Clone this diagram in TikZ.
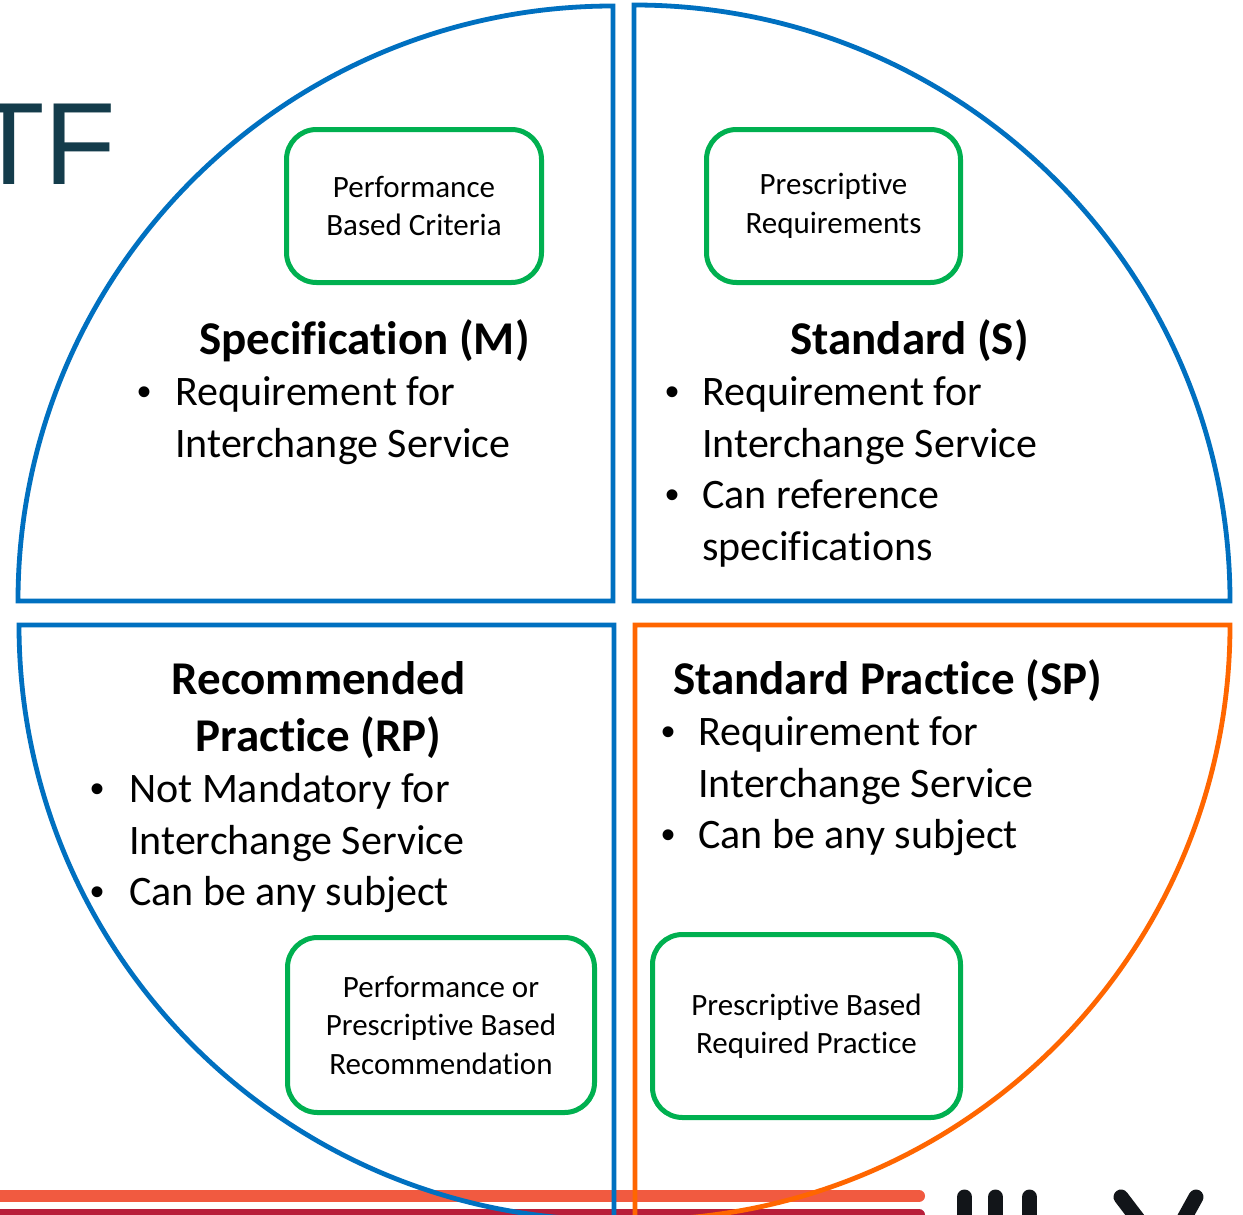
\documentclass[tikz,border=0pt]{standalone}
\usepackage{fontspec}
\setmainfont{Carlito}[Ligatures=NoCommon, RawFeature={-liga;-clig;-calt;-dlig}]
\newfontfamily\tffont{Liberation Sans}
\definecolor{blueq}{HTML}{0070C0}
\definecolor{orangeq}{HTML}{FF6600}
\definecolor{greenb}{HTML}{00B050}
\definecolor{tealtf}{HTML}{143C4B}
\definecolor{lightred}{HTML}{F15A40}
\definecolor{darkred}{HTML}{B81E3A}
\definecolor{logoblk}{HTML}{121519}
\begin{document}
\begin{tikzpicture}[x=1pt,y=1pt,
  quad/.style={line width=4.8pt},
  gbox/.style={draw=greenb, line width=5pt, rounded corners=30pt, align=center, inner sep=0pt,
    font=\fontsize{31}{38.5}\selectfont},
  head/.style={anchor=base, inner sep=0pt, font=\fontsize{47}{57}\bfseries\selectfont},
  btxt/.style={anchor=base west, inner sep=0pt, font=\fontsize{42}{52}\selectfont},
  bul/.style={anchor=base, inner sep=0pt, font=\tffont\fontsize{40}{52}\selectfont},
  bar/.style={line width=12pt, line cap=round},
  stroke/.style={draw=logoblk, line width=15pt, line cap=round}
]
\useasboundingbox (0,0) rectangle (1243,-1215);
\clip (0,0) rectangle (1243,-1215);
\fill[white] (0,0) rectangle (1243,-1215);

% title fragment
\node[anchor=base west, inner sep=0pt, text=tealtf, font=\tffont\fontsize{117}{117}\selectfont] (tf) at (-27,-184) {TF};

% bottom bars and logo fragment
\coordinate (lb1) at (-20,-1196);
\coordinate (lb2) at (919,-1196);
\coordinate (db1) at (-20,-1215);
\coordinate (db2) at (919,-1215);
\draw[bar, lightred] (lb1) -- (lb2);
\draw[bar, darkred] (db1) -- (db2);
\coordinate (s1a) at (964.5,-1197); \coordinate (s1b) at (964.5,-1240);
\coordinate (s2a) at (995.5,-1197); \coordinate (s2b) at (995.5,-1240);
\coordinate (s3a) at (1029.5,-1197); \coordinate (s3b) at (1029.5,-1240);
\coordinate (y1a) at (1121,-1197); \coordinate (y1b) at (1150,-1235);
\coordinate (y2a) at (1196,-1197); \coordinate (y2b) at (1175,-1235);
\draw[stroke] (s1a) -- (s1b);
\draw[stroke] (s2a) -- (s2b);
\draw[stroke] (s3a) -- (s3b);
\draw[stroke] (y1a) -- (y1b);
\draw[stroke] (y2a) -- (y2b);

% quadrants
\draw[quad, blueq] (613,-601) -- (18,-601) arc[start angle=180, end angle=90, radius=595] -- cycle;
\draw[quad, blueq] (634,-601) -- (634,-5) arc[start angle=90, end angle=0, radius=596] -- cycle;
\draw[quad, blueq] (614,-625) -- (19,-625) arc[start angle=180, end angle=270, radius=595] -- cycle;
\draw[quad, orangeq] (635,-625) -- (1230,-625) arc[start angle=0, end angle=-90, radius=595] -- cycle;

% green boxes
\node[gbox, minimum width=255pt, minimum height=153pt] (b1) at (414,-206) {Performance\\Based Criteria};
\node[gbox, minimum width=254pt, minimum height=153pt] (b2) at (833.5,-206) {Prescriptive\\Requirements};
\node[gbox, minimum width=307pt, minimum height=175pt] (b3) at (441,-1025) {Performance or\\Prescriptive Based\\Recommendation};
\node[gbox, minimum width=308pt, minimum height=183pt] (b4) at (806.5,-1026) {Prescriptive Based\\Required Practice};

% top-left
\node[head] (h1) at (364.5,-354) {Specification (M)};
\node[bul] (u11) at (145,-405) {•};
\node[btxt] (t11) at (175,-405) {Requirement for};
\node[btxt] (t12) at (175,-457) {Interchange Service};

% top-right
\node[head] (h2) at (909.5,-354) {Standard (S)};
\node[bul] (u21) at (672,-405) {•};
\node[btxt] (t21) at (702,-405) {Requirement for};
\node[btxt] (t22) at (702,-457) {Interchange Service};
\node[bul] (u22) at (672,-508) {•};
\node[btxt] (t23) at (702,-508) {Can reference};
\node[btxt] (t24) at (702,-560) {specifications};

% bottom-left
\node[head] (h3a) at (318.5,-694) {Recommended};
\node[head] (h3b) at (318.5,-751) {Practice (RP)};
\node[bul] (u31) at (98,-802) {•};
\node[btxt] (t31) at (129,-802) {Not Mandatory for};
\node[btxt] (t32) at (129,-854) {Interchange Service};
\node[bul] (u32) at (98,-905) {•};
\node[btxt] (t33) at (129,-905) {Can be any subject};

% bottom-right
\node[head] (h4) at (887.5,-694) {Standard Practice (SP)};
\node[bul] (u41) at (668,-745) {•};
\node[btxt] (t41) at (698,-745) {Requirement for};
\node[btxt] (t42) at (698,-797) {Interchange Service};
\node[bul] (u42) at (668,-848) {•};
\node[btxt] (t43) at (698,-848) {Can be any subject};
\end{tikzpicture}
\end{document}
